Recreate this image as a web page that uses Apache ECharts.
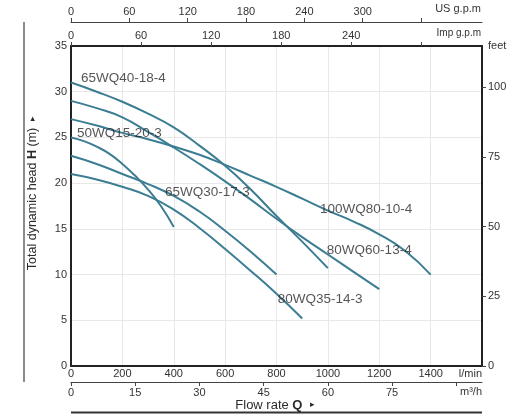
<!DOCTYPE html>
<html><head><meta charset="utf-8">
<script src="https://cdn.jsdelivr.net/npm/echarts@6/dist/echarts.min.js"></script>
<style>html,body{margin:0;padding:0;background:#fff}#c{width:524px;height:414px}</style>
</head><body><div id="c"></div>
<script>
// Flow (l/min) and head (m) for each pump curve
const q_65WQ40 = [0,100,200,300,400,500,600,700,800,900,1000];
const h_65WQ40 = [31,30,28.9,27.6,26.1,24.1,21.9,19.3,16.4,13.6,10.7];
const q_80WQ60 = [0,100,200,300,400,500,600,700,800,900,1000,1100,1200];
const h_80WQ60 = [29,28.2,27.2,25.6,23.9,22.1,20.2,18.2,16.1,14.1,12.2,10.3,8.4];
const q_100WQ80 = [0,100,200,300,400,500,600,700,800,900,1000,1100,1200,1300,1400];
const h_100WQ80 = [27,26.3,25.5,24.8,24.0,23.1,22.0,20.8,19.6,18.3,17.0,15.8,14.4,12.6,10];
const q_50WQ15 = [0,50,100,150,200,250,300,350,400];
const h_50WQ15 = [25,24.6,24,23.2,22.1,20.8,19.3,17.5,15.2];
const q_65WQ30 = [0,100,200,300,400,500,600,700,800];
const h_65WQ30 = [23,22.1,21.0,19.9,18.6,16.9,14.8,12.5,10];
const q_80WQ35 = [0,100,200,300,400,500,600,700,800,900];
const h_80WQ35 = [21,20.4,19.6,18.6,17.1,15.1,12.8,10.4,7.9,5.2];

// curve labels: name, flow (l/min), head (m) at label's left edge
const labelNames = ['65WQ40-18-4','50WQ15-20-3','65WQ30-17-3','100WQ80-10-4','80WQ60-13-4','80WQ35-14-3'];
const labelQ = [39,23,366,969,996,805];
const labelH = [31.5,25.5,19.0,17.1,12.7,7.3];

// axis ticks
const m3hTicks = [0,15,30,45,60,75,90];
const m3hLabels = [0,15,30,45,60,75];
const impTicks = [0,60,120,180,240,300];
const impLabels = [0,60,120,180,240];
const usTicks = [0,60,120,180,240,300,360];
const usLabels = [0,60,120,180,240,300];
const feetTicks = [0,25,50,75,100];

const QMAX = 1600, HMAX = 35;
const FONT = 'Liberation Sans, Arial, sans-serif';
const LINE = '#3b7d93';
const TXT = '#2b2b2b';

function pairs(q,h){ return q.map((v,i)=>[v,h[i]]); }
const curves = [[q_65WQ40,h_65WQ40],[q_80WQ60,h_80WQ60],[q_100WQ80,h_100WQ80],[q_50WQ15,h_50WQ15],[q_65WQ30,h_65WQ30],[q_80WQ35,h_80WQ35]];

const chart = echarts.init(document.getElementById('c'), null, {renderer:'canvas'});
const lbl = (extra)=>Object.assign({color:'#333',fontSize:11,fontFamily:FONT},extra||{});

chart.setOption({
  animation:false,
  grid:{left:71,right:42,top:46,bottom:48,containLabel:false},
  xAxis:[
    {type:'value',position:'bottom',min:0,max:QMAX,interval:200,
     axisLine:{show:true,onZero:false,lineStyle:{color:'#222',width:2}},
     axisTick:{show:false},
     splitLine:{show:true,lineStyle:{color:'#e8e8e8',width:1}},
     axisLabel:lbl({margin:2,alignMaxLabel:'right',formatter:v=>v===QMAX?'l/min':String(v)})},
    {type:'value',position:'bottom',offset:16,min:0,max:QMAX*0.06,
     axisLine:{show:true,onZero:false,lineStyle:{color:'#444',width:1.2}},
     axisTick:{show:true,length:4,lineStyle:{color:'#444'},customValues:m3hTicks},
     splitLine:{show:false},
     axisLabel:lbl({margin:5,customValues:m3hLabels})},
    {type:'value',position:'top',min:0,max:QMAX/4.54609,
     axisLine:{show:true,onZero:false,lineStyle:{color:'#222',width:2}},
     axisTick:{show:true,length:4,lineStyle:{color:'#444'},customValues:impTicks},
     splitLine:{show:false},
     axisLabel:lbl({margin:5,customValues:impLabels})},
    {type:'value',position:'top',offset:24,min:0,max:QMAX/3.78541,
     axisLine:{show:true,onZero:false,lineStyle:{color:'#444',width:1.2}},
     axisTick:{show:true,length:4,lineStyle:{color:'#444'},customValues:usTicks},
     splitLine:{show:false},
     axisLabel:lbl({margin:5,customValues:usLabels})}
  ],
  yAxis:[
    {type:'value',position:'left',min:0,max:HMAX,interval:5,
     axisLine:{show:true,onZero:false,lineStyle:{color:'#222',width:2}},
     axisTick:{show:false},
     splitLine:{show:true,lineStyle:{color:'#e8e8e8',width:1}},
     axisLabel:lbl({margin:4})},
    {type:'value',position:'right',min:0,max:HMAX/0.3048,
     axisLine:{show:true,onZero:false,lineStyle:{color:'#222',width:2}},
     axisTick:{show:true,length:4,lineStyle:{color:'#444'},customValues:feetTicks},
     splitLine:{show:false},
     axisLabel:lbl({margin:6,customValues:feetTicks})}
  ],
  series: curves.map((c,i)=>({
    type:'line',name:labelNames[i],xAxisIndex:0,yAxisIndex:0,
    data:pairs(c[0],c[1]),smooth:true,symbol:'none',
    lineStyle:{color:LINE,width:2},z:3
  })).concat([{
    type:'scatter',xAxisIndex:0,yAxisIndex:0,symbolSize:0,z:4,silent:true,
    data:labelNames.map((n,i)=>({name:n,value:[labelQ[i],labelH[i]]})),
    label:{show:true,position:'right',distance:0,formatter:p=>p.name,
      color:TXT,fontSize:13.5,fontFamily:FONT}
  }]),
  graphic:[
    {type:'text',x:481,y:9,style:{text:'US g.p.m',fill:'#333',font:'11px '+FONT,align:'right',verticalAlign:'middle'}},
    {type:'text',x:481,y:33,style:{text:'Imp g.p.m',fill:'#333',font:'10px '+FONT,align:'right',verticalAlign:'middle'}},
    {type:'text',x:488,y:46,style:{text:'feet',fill:'#333',font:'11px '+FONT,align:'left',verticalAlign:'middle'}},
    {type:'text',x:482,y:392,style:{text:'m³/h',fill:'#333',font:'11px '+FONT,align:'right',verticalAlign:'middle'}},
    {type:'text',x:275,y:405,style:{text:'Flow rate {b|Q}  {s|▸}',fill:TXT,font:'13px '+FONT,align:'center',verticalAlign:'middle',
      rich:{b:{fontWeight:'bold',fontSize:13,fontFamily:FONT,fill:TXT},s:{fontSize:9,fontFamily:FONT,fill:TXT}}}},
    {type:'text',x:33,y:193,rotation:Math.PI/2,style:{text:'Total dynamic head {b|H} (m)  {s|▸}',fill:TXT,font:'12.5px '+FONT,align:'center',verticalAlign:'middle',
      rich:{b:{fontWeight:'bold',fontSize:12.5,fontFamily:FONT,fill:TXT},s:{fontSize:9,fontFamily:FONT,fill:TXT}}}},
    {type:'line',shape:{x1:71,y1:412.5,x2:482,y2:412.5},style:{stroke:'#333',lineWidth:2}},
    {type:'line',shape:{x1:24,y1:22,x2:24,y2:382},style:{stroke:'#666',lineWidth:1.5}}
  ]
});
</script></body></html>
